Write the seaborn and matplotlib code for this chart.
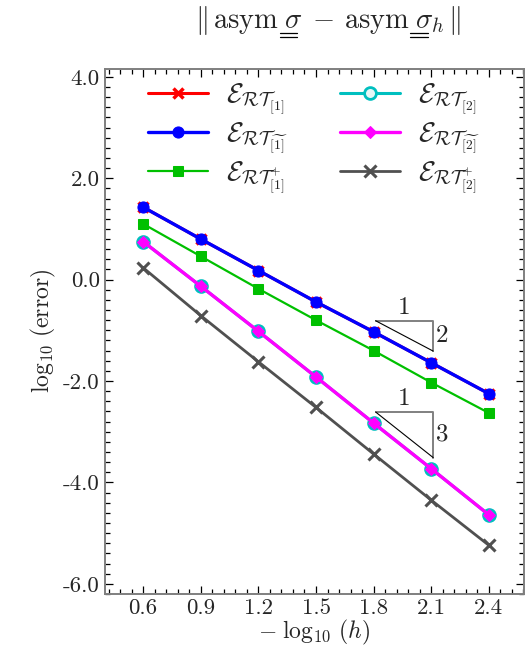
import numpy as np
import pandas as pd
import matplotlib
matplotlib.use("Agg")
import matplotlib.pyplot as plt
from matplotlib.ticker import MultipleLocator
from matplotlib.lines import Line2D
import seaborn as sns

# ---------------- data ----------------
h_log = [0.6, 0.9, 1.2, 1.5, 1.8, 2.1, 2.4]
err_rt1 = [1.43, 0.80, 0.18, -0.44, -1.03, -1.64, -2.25]
err_rt1_tilde = [1.43, 0.80, 0.18, -0.44, -1.03, -1.64, -2.25]
err_rt1_plus = [1.10, 0.46, -0.18, -0.80, -1.40, -2.03, -2.63]
err_rt2 = [0.75, -0.13, -1.02, -1.92, -2.83, -3.73, -4.64]
err_rt2_tilde = [0.75, -0.13, -1.02, -1.92, -2.83, -3.73, -4.64]
err_rt2_plus = [0.235, -0.71, -1.62, -2.52, -3.44, -4.35, -5.24]

labels = [
    r"$\mathcal{E}_{\mathcal{RT}_{[1]}}$",
    r"$\mathcal{E}_{\mathcal{RT}_{\widetilde{[1]}}}$",
    r"$\mathcal{E}_{\mathcal{RT}^{+}_{[1]}}$",
    r"$\mathcal{E}_{\mathcal{RT}_{[2]}}$",
    r"$\mathcal{E}_{\mathcal{RT}_{\widetilde{[2]}}}$",
    r"$\mathcal{E}_{\mathcal{RT}^{+}_{[2]}}$",
]
series = [err_rt1, err_rt1_tilde, err_rt1_plus, err_rt2, err_rt2_tilde, err_rt2_plus]

xticks = [0.6, 0.9, 1.2, 1.5, 1.8, 2.1, 2.4]
xticklabels = ["0.6", "0.9", "1.2", "1.5", "1.8", "2.1", "2.4"]
yticks = [-6.0, -4.0, -2.0, 0.0, 2.0, 4.0]
yticklabels = ["-6.0", "-4.0", "-2.0", "0.0", "2.0", "4.0"]

# slope triangles: x start, x end, top y, slope, labels
tri_x0 = [1.81, 1.81]
tri_x1 = [2.11, 2.11]
tri_ytop = [-0.81, -2.61]
tri_slope = [2, 3]
tri_run_label = ["1", "1"]
tri_rise_label = ["2", "3"]

# ---------------- style ----------------
sns.set_style("ticks")
plt.rcParams["font.family"] = ["cmr10", "DejaVu Serif"]
plt.rcParams["mathtext.fontset"] = "cm"
plt.rcParams["axes.unicode_minus"] = False
plt.rcParams["axes.formatter.use_mathtext"] = True

W, H = 526, 657
fig = plt.figure(figsize=(W / 100, H / 100), dpi=100)
ax = fig.add_axes([104.7 / W, 1 - 594 / H, (523.5 - 104.7) / W, (594 - 68.7) / H])

styles = [
    dict(color="#ff0000", marker="x", markersize=7, markeredgewidth=2.5, linewidth=2.2),
    dict(color="#0000ff", marker="o", markersize=8, linewidth=2.4),
    dict(color="#00c000", marker="s", markersize=7.5, linewidth=1.6),
    dict(color="#00bfbf", marker="o", markersize=8.5, markerfacecolor="#e6f7f7",
         markeredgewidth=2, linewidth=2.2),
    dict(color="#ff00ff", marker="D", markersize=6.5, linewidth=2.4),
    dict(color="#505050", marker="x", markersize=9, markeredgewidth=2.2, linewidth=2.0),
]

for lab, ys, st in zip(labels, series, styles):
    sns.lineplot(x=np.array(h_log), y=np.array(ys), ax=ax, label=lab,
                 markeredgecolor=st["color"], **st)

ax.set_xlim(0.4, 2.58)
ax.set_ylim(-6.2, 4.16)
ax.set_xticks(xticks)
ax.set_xticklabels(xticklabels)
ax.set_yticks(yticks)
ax.set_yticklabels(yticklabels)
ax.xaxis.set_minor_locator(MultipleLocator(0.06))
ax.yaxis.set_minor_locator(MultipleLocator(0.2))
ax.tick_params(which="both", direction="in", top=True, right=True, color="black",
               width=0.9, labelsize=16.5)
ax.tick_params(which="major", length=6)
ax.tick_params(which="minor", length=3.5)
for sp in ax.spines.values():
    sp.set_color("#7f7f7f")
    sp.set_linewidth(1.4)

ax.set_xlabel(r"$-\;\log_{10}\,(h)$", fontsize=17, labelpad=0)
ax.set_ylabel(r"$\log_{10}\,(\mathrm{error})$", fontsize=17, labelpad=4)

# slope triangles
for x0, x1, yt, s, rl, sl in zip(tri_x0, tri_x1, tri_ytop, tri_slope, tri_run_label, tri_rise_label):
    yb = yt - s * (x1 - x0)
    ax.plot([x0, x1, x1], [yt, yt, yb], color="#808080", lw=1.4, zorder=1)
    ax.plot([x0, x1], [yt, yb], color="black", lw=0.8, zorder=1)
    ax.text((x0 + x1) / 2, yt + 0.04, rl, ha="center", va="bottom", fontsize=18)
    ax.text(x1 + 0.015, (yt + yb) / 2, sl, ha="left", va="center", fontsize=18)

leg = ax.legend(ncol=2, frameon=False, loc="upper left", bbox_to_anchor=(0.057, 1.012),
                fontsize=20, handlelength=2.15, handletextpad=0.65, columnspacing=1.9,
                labelspacing=0.13, borderaxespad=0.3)

# title with double underlines under sigma
FS_T = 20.5
title = r"$\Vert\,\mathrm{asym}\;\sigma\;-\,\mathrm{asym}\;\sigma_h\,\Vert$"
xc_px = 328
base_px = 28
fig.text(xc_px / W, 1 - base_px / H, title, ha="center", va="baseline", fontsize=FS_T)
fig.canvas.draw()
r = fig.canvas.get_renderer()


def textw(s):
    t = fig.text(0, 0, s, fontsize=FS_T)
    bb = t.get_window_extent(r)
    t.remove()
    return bb.width


Wt = textw(title)
left = xc_px - Wt / 2
ws = textw(r"$\sigma$")
starts = [left + textw(r"$\Vert\,\mathrm{asym}\;$"),
          left + textw(r"$\Vert\,\mathrm{asym}\;\sigma\;-\,\mathrm{asym}\;$")]
for sx in starts:
    for dy in (4.5, 8.5):
        y = 1 - (base_px + dy) / H
        fig.add_artist(Line2D([(sx + 0.5) / W, (sx + ws) / W], [y, y],
                              transform=fig.transFigure, color="black", lw=0.9))

fig.savefig("out.png", dpi=100)
